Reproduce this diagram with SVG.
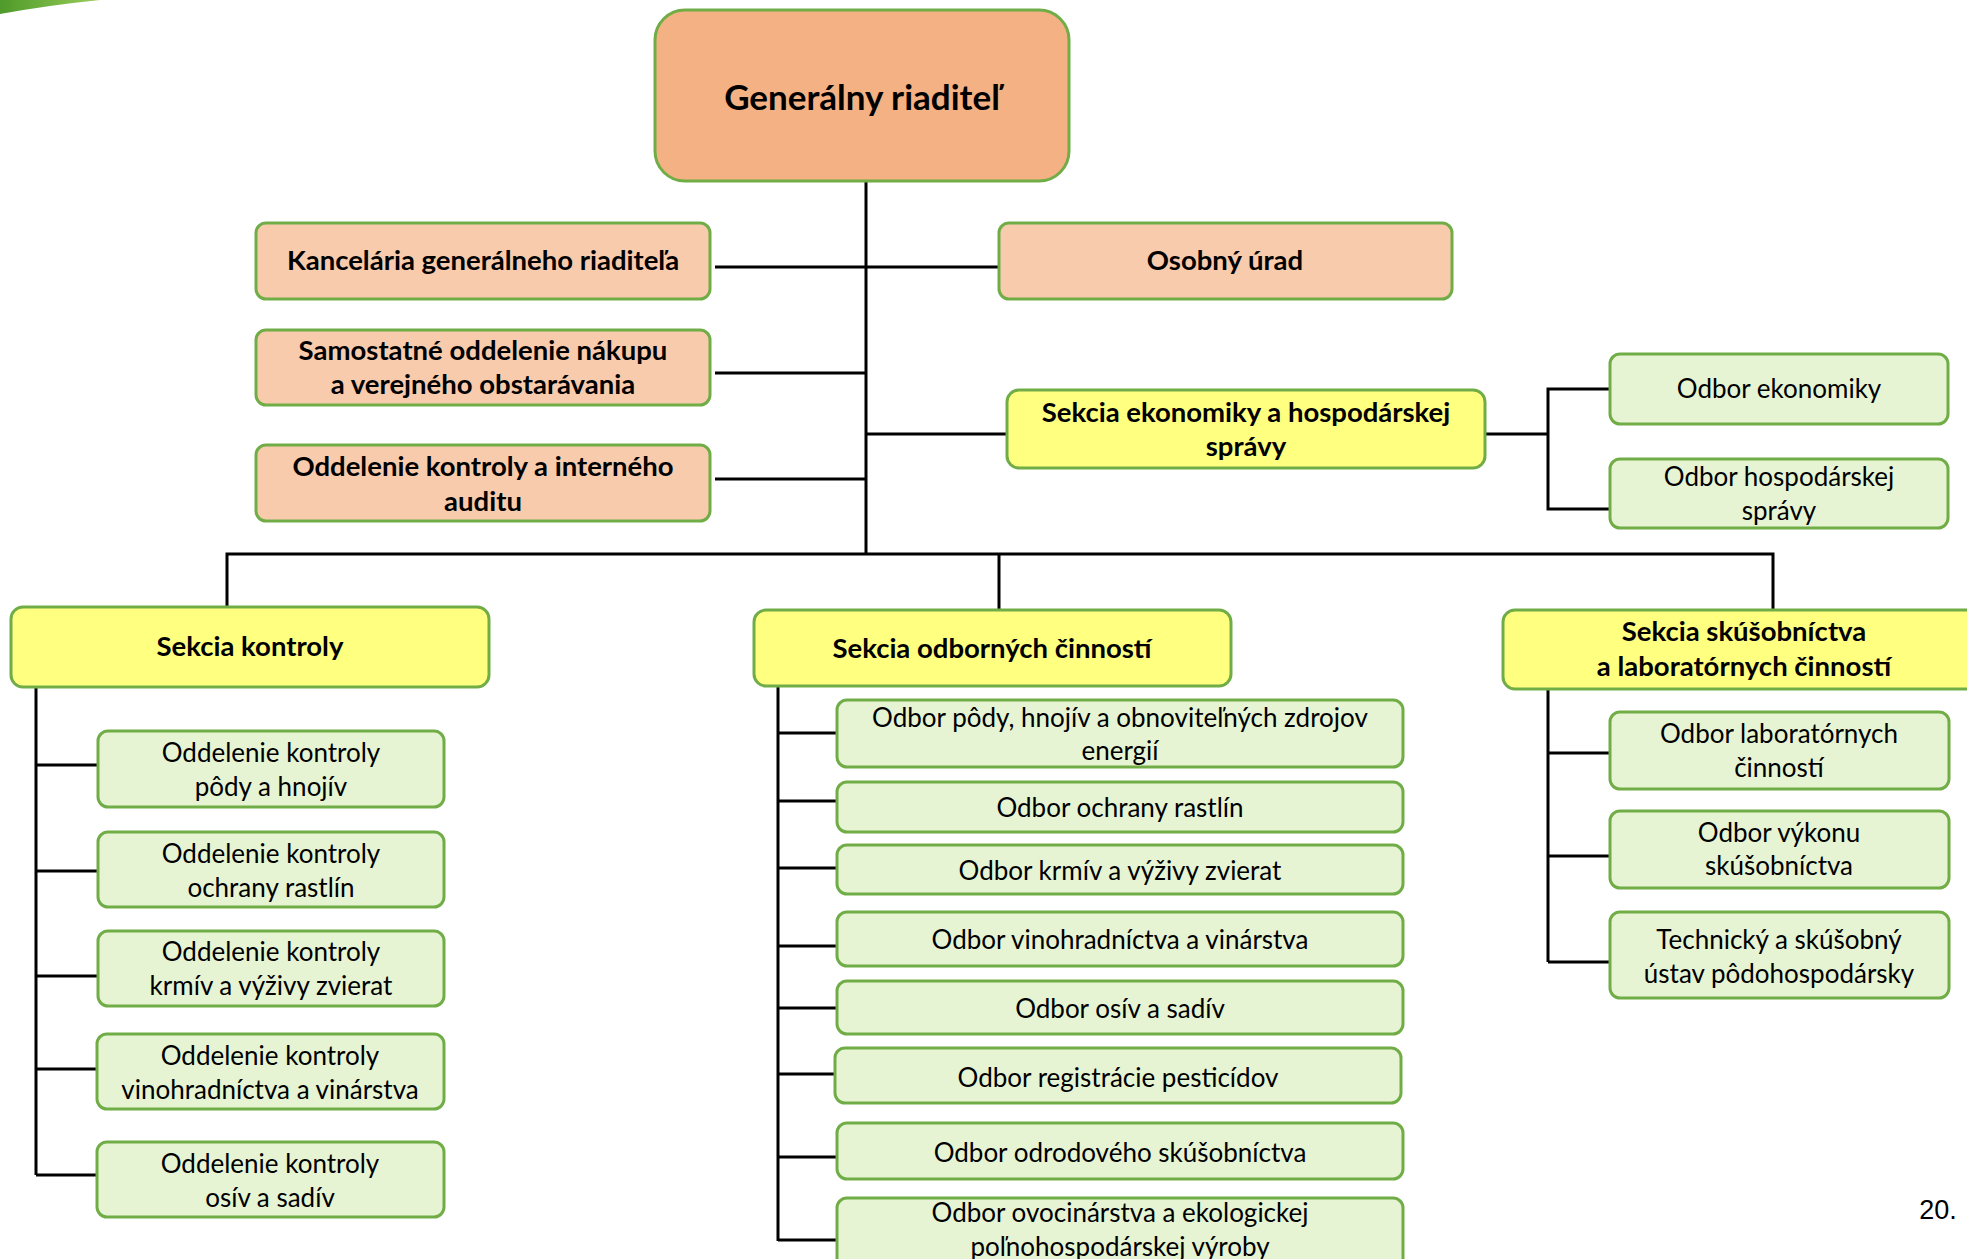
<svg xmlns="http://www.w3.org/2000/svg" width="1967" height="1259" viewBox="0 0 1967 1259">
<defs>
<style>
.n rect{stroke:#70AD47;stroke-width:3}
.top{fill:#F4B183}
.sal{fill:#F8CBAD}
.yel{fill:#FFFF80}
.grn{fill:#E6F4D4}
text{font-family:Lato,"Open Sans","Liberation Sans",sans-serif;fill:#000;text-anchor:middle}
.b{font-weight:bold;font-size:27.5px}
.r{font-size:26px}
.c line,.c path{stroke:#000;stroke-width:3;fill:none}
</style>
<linearGradient id="sw" x1="0" y1="0" x2="1" y2="0">
<stop offset="0" stop-color="#4E9A2A"/><stop offset="1" stop-color="#9ACD5A"/>
</linearGradient>
</defs>
<rect width="1967" height="1259" fill="#fff"/>
<path d="M0,0 L100,0 Q50,5 0,14 Z" fill="url(#sw)"/>

<g class="c">
<line x1="866" y1="181" x2="866" y2="555" stroke-width="2"/>
<line x1="715" y1="267" x2="1001" y2="267"/>
<line x1="715" y1="373" x2="866" y2="373"/>
<line x1="715" y1="479" x2="866" y2="479"/>
<line x1="866" y1="434" x2="1007" y2="434"/>
<path d="M1485,434 H1548 M1610,389 H1548 V509 H1610"/>
<path d="M227,607 V554 H1773 V610 M999,554 V610"/>
<path d="M36,687 V1175 M36,765 H98 M36,871 H98 M36,976 H98 M36,1069 H98 M36,1175 H98"/>
<path d="M778,686 V1241 M778,733 H837 M778,801 H837 M778,868 H837 M778,946 H837 M778,1008 H837 M778,1074 H835 M778,1157 H837 M778,1240 H837"/>
<path d="M1548,689 V962 M1548,753 H1610 M1548,856 H1610 M1548,962 H1610"/>
</g>

<g id="generalny" class="n"><rect class="top" x="655" y="10" width="414" height="171" rx="30"/><text x="862" y="110" font-size="35" font-weight="bold">Generálny riaditeľ</text></g>
<g id="kancelaria" class="n"><rect class="sal" x="256" y="223" width="454" height="76" rx="10"/><text class="b" x="483" y="270">Kancelária generálneho riaditeľa</text></g>
<g id="osobny" class="n"><rect class="sal" x="999" y="223" width="453" height="76" rx="10"/><text class="b" x="1225" y="270">Osobný úrad</text></g>
<g id="samostatne" class="n"><rect class="sal" x="256" y="330" width="454" height="75" rx="10"/><text class="b" x="483" y="360">Samostatné oddelenie nákupu</text><text class="b" x="483" y="394">a verejného obstarávania</text></g>
<g id="audit" class="n"><rect class="sal" x="256" y="445" width="454" height="76" rx="10"/><text class="b" x="483" y="476">Oddelenie kontroly a interného</text><text class="b" x="483" y="511">auditu</text></g>
<g id="sekcia-ekonomiky" class="n"><rect class="yel" x="1007" y="390" width="478" height="78" rx="12"/><text class="b" x="1246" y="422">Sekcia ekonomiky a hospodárskej</text><text class="b" x="1246" y="456">správy</text></g>
<g id="odbor-ekonomiky" class="n"><rect class="grn" x="1610" y="354" width="338" height="70" rx="10"/><text class="r" x="1779" y="398">Odbor ekonomiky</text></g>
<g id="odbor-hospodarskej" class="n"><rect class="grn" x="1610" y="459" width="338" height="69" rx="10"/><text class="r" x="1779" y="486">Odbor hospodárskej</text><text class="r" x="1779" y="520">správy</text></g>

<g id="sekcia-kontroly" class="n"><rect class="yel" x="11" y="607" width="478" height="80" rx="12"/><text class="b" x="250" y="656">Sekcia kontroly</text></g>
<g id="sekcia-odbornych" class="n"><rect class="yel" x="754" y="610" width="477" height="76" rx="12"/><text class="b" x="992" y="658">Sekcia odborných činností</text></g>
<g id="sekcia-skusobnictva" class="n"><rect class="yel" x="1503" y="610" width="482" height="79" rx="12"/><text class="b" x="1744" y="641">Sekcia skúšobníctva</text><text class="b" x="1744" y="676">a laboratórnych činností</text></g>

<g id="ok-pody" class="n"><rect class="grn" x="98" y="731" width="346" height="76" rx="10"/><text class="r" x="271" y="762">Oddelenie kontroly</text><text class="r" x="271" y="796">pôdy a hnojív</text></g>
<g id="ok-ochrany" class="n"><rect class="grn" x="98" y="832" width="346" height="75" rx="10"/><text class="r" x="271" y="863">Oddelenie kontroly</text><text class="r" x="271" y="897">ochrany rastlín</text></g>
<g id="ok-krmiv" class="n"><rect class="grn" x="98" y="931" width="346" height="75" rx="10"/><text class="r" x="271" y="961">Oddelenie kontroly</text><text class="r" x="271" y="995">krmív a výživy zvierat</text></g>
<g id="ok-vino" class="n"><rect class="grn" x="97" y="1034" width="347" height="75" rx="10"/><text class="r" x="270" y="1065">Oddelenie kontroly</text><text class="r" x="270" y="1099">vinohradníctva a vinárstva</text></g>
<g id="ok-osiv" class="n"><rect class="grn" x="97" y="1142" width="347" height="75" rx="10"/><text class="r" x="270" y="1173">Oddelenie kontroly</text><text class="r" x="270" y="1207">osív a sadív</text></g>

<g id="o-pody" class="n"><rect class="grn" x="837" y="700" width="566" height="67" rx="10"/><text class="r" x="1120" y="727">Odbor pôdy, hnojív a obnoviteľných zdrojov</text><text class="r" x="1120" y="760">energií</text></g>
<g id="o-ochrany" class="n"><rect class="grn" x="837" y="782" width="566" height="50" rx="10"/><text class="r" x="1120" y="817">Odbor ochrany rastlín</text></g>
<g id="o-krmiv" class="n"><rect class="grn" x="837" y="845" width="566" height="49" rx="10"/><text class="r" x="1120" y="880">Odbor krmív a výživy zvierat</text></g>
<g id="o-vino" class="n"><rect class="grn" x="837" y="912" width="566" height="54" rx="10"/><text class="r" x="1120" y="949">Odbor vinohradníctva a vinárstva</text></g>
<g id="o-osiv" class="n"><rect class="grn" x="837" y="981" width="566" height="53" rx="10"/><text class="r" x="1120" y="1018">Odbor osív a sadív</text></g>
<g id="o-pesticidov" class="n"><rect class="grn" x="835" y="1048" width="566" height="55" rx="10"/><text class="r" x="1118" y="1087">Odbor registrácie pesticídov</text></g>
<g id="o-odrodoveho" class="n"><rect class="grn" x="837" y="1123" width="566" height="56" rx="10"/><text class="r" x="1120" y="1162">Odbor odrodového skúšobníctva</text></g>
<g id="o-ovocinarstva" class="n"><rect class="grn" x="837" y="1198" width="566" height="80" rx="10"/><text class="r" x="1120" y="1222">Odbor ovocinárstva a ekologickej</text><text class="r" x="1120" y="1256">poľnohospodárskej výroby</text></g>

<g id="o-laboratornych" class="n"><rect class="grn" x="1610" y="712" width="339" height="77" rx="10"/><text class="r" x="1779" y="743">Odbor laboratórnych</text><text class="r" x="1779" y="777">činností</text></g>
<g id="o-vykonu" class="n"><rect class="grn" x="1610" y="811" width="339" height="77" rx="10"/><text class="r" x="1779" y="842">Odbor výkonu</text><text class="r" x="1779" y="875">skúšobníctva</text></g>
<g id="tsup" class="n"><rect class="grn" x="1610" y="912" width="339" height="86" rx="10"/><text class="r" x="1779" y="949">Technický a skúšobný</text><text class="r" x="1779" y="983">ústav pôdohospodársky</text></g>

<text x="1938" y="1219" font-size="27" style="font-family:'Liberation Sans',sans-serif">20.</text>
</svg>
